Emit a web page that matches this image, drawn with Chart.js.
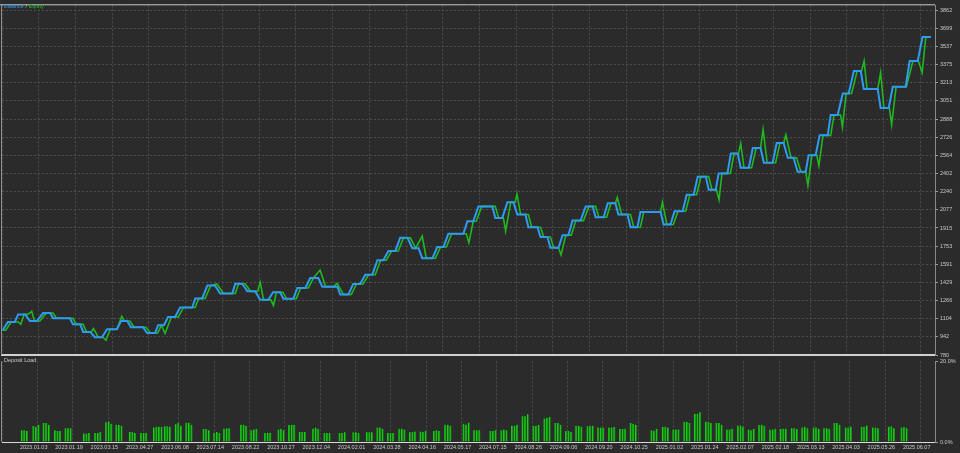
<!DOCTYPE html>
<html>
<head>
<meta charset="utf-8">
<script src="https://cdn.jsdelivr.net/npm/chart.js@4"></script>
<style>
  html, body { margin: 0; padding: 0; background: #2b2b2b; }
  #wrap { position: relative; width: 960px; height: 453px; overflow: hidden; }
  #main { position: absolute; left: 0; top: 0; z-index: 2; }
  #load { position: absolute; left: 0; top: 356px; z-index: 1; }
  .lbl { position: absolute; z-index: 3; font: 5.5px "Liberation Sans", sans-serif; color: #c8c8c8; white-space: nowrap; }
</style>
</head>
<body>
<div id="wrap">
  <canvas id="main" width="960" height="362"></canvas>
  <canvas id="load" width="960" height="97"></canvas>
  <div class="lbl" style="left:4px;top:3px"><span style="color:#2e9bf0">Balance</span> / <span style="color:#1fc01f">Equity</span></div>
  <div class="lbl" style="left:4px;top:357px">Deposit Load</div>
</div>
<script>
// x values are deal numbers, one date label every 10 deals
const dateLabels = ['2023.01.03', '2023.01.19', '2023.03.15', '2023.04.27', '2023.06.08', '2023.07.14',
  '2023.08.22', '2023.10.27', '2023.12.04', '2024.02.01', '2024.03.28', '2024.04.16', '2024.05.17',
  '2024.07.15', '2024.08.26', '2024.09.06', '2024.09.20', '2024.10.25', '2025.01.02', '2025.01.24',
  '2025.02.07', '2025.02.18', '2025.03.13', '2025.04.03', '2025.05.26', '2025.06.07'];

// right axis tick values of the balance panel
const balanceTicks = [780, 942, 1104, 1266, 1429, 1591, 1753, 1915, 2077, 2240, 2402, 2564, 2726,
  2888, 3051, 3213, 3375, 3537, 3699, 3862];

// balance: each level is held from stepFrom to stepTo
const stepFrom = [0.2, 1.6, 4.4, 7.6, 11.2, 13.9, 19.3, 22.1, 25.3, 28.6,
  32.4, 35.1, 39.5, 42.5, 45.2, 48.5, 52.6, 55.9, 59.4, 63.5,
  66.8, 70.3, 73.8, 76.6, 80.4, 83.9, 87.2, 92.1, 95.6, 98.9,
  102.2, 105.2, 108.4, 111.7, 114.4, 118.5, 121.5, 126.7, 129.7, 134.3,
  137.6, 140.3, 143.3, 146.6, 149.3, 152.6, 155.3, 158.9, 161.6, 164.9,
  167.8, 171.1, 173.8, 180.1, 183.1, 186.4, 189.4, 192.4, 195.1, 198.4,
  201.1, 204.4, 207.4, 210.9, 213.9, 216.6, 219.6, 222.6, 225.6, 228.9,
  231.9, 234.6, 239.2, 242.5, 247.1, 250.6];
const stepTo = [0.2, 3.5, 6.3, 9.5, 13.1, 18.5, 21.3, 24.0, 27.2, 31.3,
  34.1, 38.4, 41.7, 44.1, 47.1, 51.8, 54.5, 58.0, 62.7, 65.4,
  68.9, 72.5, 75.7, 79.3, 82.6, 86.1, 91.3, 94.3, 97.5, 100.8,
  103.8, 107.1, 110.4, 113.4, 117.2, 120.2, 125.6, 128.3, 133.5, 136.2,
  139.2, 142.5, 145.8, 148.5, 151.5, 154.2, 157.5, 160.8, 163.8, 167.0,
  170.3, 173.0, 179.3, 182.0, 185.3, 188.3, 191.6, 194.3, 197.5, 200.3,
  203.3, 206.5, 209.8, 212.8, 215.5, 218.8, 221.5, 224.8, 227.5, 230.5,
  233.8, 238.4, 241.4, 246.0, 249.3, 252.9];
const balanceLevels = [1001, 1075, 1143, 1084, 1155, 1108, 1054, 986, 939, 1010,
  1084, 1028, 977, 1046, 1119, 1205, 1285, 1400, 1329, 1417,
  1349, 1273, 1340, 1282, 1379, 1468, 1391, 1320, 1415, 1497,
  1627, 1710, 1827, 1734, 1645, 1745, 1863, 1975, 2108, 2005,
  2146, 2035, 1922, 1834, 1739, 1851, 1981, 2108, 2011, 2137,
  2035, 1922, 2058, 1946, 2064, 2212, 2374, 2256, 2403, 2580,
  2453, 2630, 2498, 2675, 2542, 2418, 2566, 2743, 2925, 3117,
  3318, 3156, 2987, 3177, 3407, 3622];

// equity turning points
const equityX = [0.2, 1.0, 2.5, 4.4, 5.1, 6.0, 7.0, 8.1, 8.8, 10.3,
  12.1, 13.9, 14.8, 19.3, 20.2, 22.1, 23.0, 24.3, 24.9, 26.2,
  27.5, 28.3, 29.5, 31.3, 32.6, 33.3, 34.8, 36.0, 39.2, 40.4,
  42.4, 43.4, 44.4, 46.1, 48.0, 49.4, 52.6, 53.5, 55.3, 56.8,
  58.5, 60.3, 63.5, 64.4, 66.2, 67.7, 69.6, 70.3, 71.2, 73.2,
  73.9, 74.7, 76.5, 77.5, 80.1, 81.3, 83.4, 84.8, 86.6, 88.1,
  90.3, 91.2, 93.0, 95.1, 96.5, 98.3, 99.8, 101.6, 103.1, 104.6,
  106.1, 107.9, 109.3, 111.2, 112.6, 114.4, 115.5, 118.0, 119.4, 121.0,
  122.4, 126.4, 127.1, 128.3, 129.1, 130.6, 134.3, 135.2, 136.5, 137.1,
  138.5, 139.7, 140.2, 141.2, 143.3, 144.2, 146.6, 147.5, 149.3, 150.2,
  151.5, 152.2, 153.5, 155.0, 156.2, 158.3, 159.8, 161.6, 162.5, 164.6,
  165.8, 167.0, 167.5, 168.7, 171.1, 172.0, 173.8, 174.7, 179.3, 179.8,
  181.0, 182.8, 184.0, 186.1, 187.3, 189.1, 190.3, 192.4, 193.3, 194.5,
  195.2, 196.0, 198.3, 199.3, 200.5, 201.1, 202.0, 204.1, 205.3, 206.5,
  207.2, 208.3, 210.6, 211.8, 212.8, 213.4, 214.8, 216.3, 217.5, 218.8,
  219.4, 220.5, 221.8, 222.4, 223.5, 225.6, 226.5, 228.3, 228.8, 229.8,
  231.3, 232.8, 234.0, 234.7, 235.5, 238.4, 239.2, 240.1, 241.6, 242.2,
  243.4, 246.2, 248.0, 249.5, 250.5, 251.5, 252.9];
const equity = [1001, 1001, 1075, 1075, 1054, 1143, 1143, 1170, 1084, 1084,
  1155, 1155, 1108, 1108, 1054, 1054, 986, 986, 1016, 939,
  939, 912, 1010, 1010, 1125, 1084, 1084, 1028, 1028, 977,
  977, 1046, 972, 1119, 1119, 1205, 1205, 1285, 1285, 1400,
  1415, 1329, 1329, 1417, 1417, 1349, 1349, 1429, 1273, 1273,
  1223, 1340, 1340, 1282, 1282, 1379, 1379, 1468, 1539, 1391,
  1391, 1420, 1320, 1320, 1415, 1415, 1497, 1497, 1627, 1627,
  1710, 1710, 1827, 1827, 1734, 1842, 1645, 1645, 1745, 1745,
  1863, 1863, 1783, 1975, 1975, 2108, 2108, 2005, 2005, 1887,
  2146, 2146, 2217, 2035, 2035, 1922, 1922, 1834, 1834, 1739,
  1739, 1674, 1851, 1851, 1981, 1981, 2108, 2108, 2011, 2011,
  2137, 2137, 2188, 2035, 2035, 1922, 1922, 2058, 2058, 2146,
  1946, 1946, 2064, 2064, 2212, 2212, 2374, 2374, 2256, 2256,
  2167, 2403, 2403, 2580, 2580, 2669, 2453, 2453, 2630, 2630,
  2796, 2498, 2498, 2675, 2675, 2748, 2542, 2542, 2418, 2418,
  2294, 2566, 2566, 2471, 2743, 2743, 2925, 2925, 2816, 3117,
  3117, 3318, 3318, 3407, 3156, 3156, 3303, 2987, 2987, 2837,
  3177, 3177, 3407, 3407, 3303, 3622, 3622];

// deposit load (%), bars come in small groups starting at loadX
const loadX = [0.5, 3.8, 6.7, 9.9, 12.9, 18.1, 21.3, 24.4, 27.3, 31.1,
  34.3, 37.9, 41.0, 44.1, 47.1, 52.0, 55.0, 57.8, 62.6, 65.5,
  69.4, 73.2, 76.2, 79.2, 83.0, 86.2, 90.5, 94.4, 98.2, 101.2,
  104.2, 107.4, 110.4, 113.4, 117.2, 120.4, 125.6, 128.6, 133.2, 136.3,
  139.3, 142.3, 145.4, 148.5, 151.6, 154.6, 157.5, 160.7, 163.7, 166.8,
  169.9, 172.9, 178.8, 182.0, 185.0, 188.1, 191.1, 194.2, 197.2, 200.2,
  203.3, 206.3, 209.3, 212.4, 215.4, 218.5, 221.5, 224.7, 227.7, 230.6,
  233.8, 238.3, 241.5, 246.0, 249.6];
const loadPct = [[2.9, 2.9, 2.7], [4.0, 3.8, 4.3], [4.7, 4.7, 4.3], [2.9, 2.7, 2.7], [3.4, 3.4, 3.4],
  [2.1, 2.1, 2.2], [2.2, 2.2, 2.5], [4.9, 5.1, 4.5], [4.3, 4.3, 4.0], [2.5, 2.5, 2.2],
  [2.2, 2.2, 2.2], [3.6, 3.8, 3.8, 3.7], [3.9, 3.9, 3.8], [4.4, 4.7, 4.0], [4.8, 4.8, 4.3],
  [3.2, 3.2, 2.9], [2.3, 2.5, 2.2], [3.3, 3.4, 3.4], [4.3, 4.3, 4.0], [2.9, 3.1, 3.3],
  [2.2, 2.3, 2.3], [3.1, 3.3, 2.9], [4.2, 4.2, 4.3], [2.5, 2.5, 2.5], [3.3, 3.6, 3.3],
  [2.2, 2.2, 2.2], [2.2, 2.2, 2.4], [2.4, 2.4, 2.2], [2.4, 2.4, 2.4], [3.6, 3.6, 3.3],
  [2.2, 2.2, 2.2], [3.3, 3.3, 3.1], [2.4, 2.5, 2.6], [2.6, 2.5, 2.7], [2.7, 2.9, 2.7],
  [4.3, 4.3, 4.0], [4.5, 4.3, 4.8], [2.9, 2.9, 2.9], [2.7, 2.7, 2.9], [2.9, 3.1, 2.9],
  [4.0, 4.0, 4.3], [6.4, 6.4, 6.9], [4.0, 4.0, 4.2], [5.8, 6.0, 6.2], [4.7, 4.7, 4.3],
  [2.7, 2.7, 2.5], [4.0, 4.0, 3.8], [3.9, 4.0, 4.0], [3.6, 3.6, 3.6], [3.6, 3.6, 3.7],
  [3.2, 3.2, 3.3], [4.7, 4.5, 4.3], [2.9, 2.8, 3.2], [3.7, 3.8, 3.6], [3.1, 3.1, 3.1],
  [5.0, 5.0, 4.7], [7.0, 7.0, 7.4], [5.0, 5.0, 4.7], [4.7, 4.7, 4.3], [3.1, 3.1, 3.3],
  [4.1, 4.1, 3.8], [3.1, 2.9, 3.2], [4.2, 4.3, 4.0], [3.1, 3.1, 3.3], [3.2, 3.3, 3.3],
  [3.4, 3.4, 3.2], [3.6, 3.8, 3.4], [3.6, 3.6, 3.3], [3.4, 3.4, 3.2], [4.7, 4.7, 4.3],
  [3.6, 3.6, 3.8], [3.8, 3.8, 4.1], [3.6, 3.6, 3.4], [3.8, 3.9, 3.4], [3.6, 3.7, 3.4]];

const BLUE = '#2e9bf0';
const GREEN = '#1fb81f';
const GRID = '#4e4e4e';
const TEXT = '#c8c8c8';
const FONT = { family: 'Liberation Sans', size: 5.5 };
const DEAL_MAX = 254;
const BAR_STEP = 0.73;

// build point lists from the arrays above
const balancePts = [];
balanceLevels.forEach((v, i) => {
  balancePts.push({ x: stepFrom[i], y: v });
  if (stepTo[i] !== stepFrom[i]) balancePts.push({ x: stepTo[i], y: v });
});
const equityPts = equityX.map((x, i) => ({ x, y: equity[i] }));
const loadPts = [];
loadX.forEach((x0, g) => {
  loadPct[g].forEach((v, j) => loadPts.push({ x: x0 + j * BAR_STEP, y: v }));
});

// thin frame lines around the panels
const framePlugin = {
  id: 'frame',
  afterDraw(chart, args, opts) {
    const { ctx, chartArea } = chart;
    ctx.save();
    ctx.lineWidth = 1;
    ctx.strokeStyle = '#8c8c8c';
    ctx.beginPath();
    ctx.moveTo(1.5, chartArea.top);
    ctx.lineTo(1.5, chartArea.bottom);
    ctx.stroke();
    if (opts.top) {
      ctx.strokeStyle = '#c8c8c8';
      ctx.beginPath();
      ctx.moveTo(0, chartArea.top - 0.5);
      ctx.lineTo(chartArea.right, chartArea.top - 0.5);
      ctx.stroke();
    }
    ctx.restore();
  }
};

function xScale(showLabels) {
  return {
    type: 'linear',
    min: 0,
    max: DEAL_MAX,
    afterBuildTicks: (scale) => { scale.ticks = dateLabels.map((_, i) => ({ value: i * 10 })); },
    afterFit: (scale) => {
      scale.height = showLabels ? 11 : 0;
      scale.paddingLeft = 0;
      scale.paddingRight = 0;
    },
    grid: { color: GRID, drawTicks: false },
    border: showLabels ? { color: '#d8d8d8', width: 1, dash: [2, 2] } : { color: '#d0d0d0', width: 2, dash: [2, 2] },
    ticks: {
      display: showLabels,
      autoSkip: false,
      maxRotation: 0,
      align: 'start',
      padding: 2,
      color: TEXT,
      font: FONT,
      callback: (v) => dateLabels[Math.round(v / 10)]
    }
  };
}

new Chart(document.getElementById('main'), {
  type: 'line',
  data: {
    datasets: [
      { label: 'Balance', data: balancePts, borderColor: BLUE, borderWidth: 2, pointRadius: 0, order: 0 },
      { label: 'Equity', data: equityPts, borderColor: GREEN, borderWidth: 1.6, pointRadius: 0, order: 1 }
    ]
  },
  options: {
    responsive: false,
    animation: false,
    layout: { padding: { left: 2, top: 2, right: 0, bottom: 7 } },
    plugins: { legend: { display: false }, tooltip: { enabled: false }, frame: { top: true } },
    scales: {
      x: xScale(false),
      y: {
        position: 'right',
        min: 780,
        max: 3905,
        afterBuildTicks: (scale) => { scale.ticks = balanceTicks.map((v) => ({ value: v })); },
        afterFit: (scale) => { scale.width = 25; },
        grid: { color: GRID, tickLength: 3, tickColor: '#9a9a9a' },
        border: { color: '#8a8a8a', width: 1, dash: [2, 2] },
        ticks: { color: TEXT, font: FONT, padding: 2, callback: (v) => String(v) }
      }
    }
  },
  plugins: [framePlugin]
});

new Chart(document.getElementById('load'), {
  type: 'bar',
  data: {
    datasets: [
      {
        label: 'Deposit Load',
        data: loadPts,
        backgroundColor: '#1ccb1c',
        borderColor: '#0c8a0c',
        borderWidth: { right: 1, left: 0, top: 0, bottom: 0 },
        borderSkipped: false,
        barThickness: 1.8
      }
    ]
  },
  options: {
    responsive: false,
    animation: false,
    layout: { padding: { left: 2, top: 2, right: 0, bottom: 0 } },
    plugins: { legend: { display: false }, tooltip: { enabled: false }, frame: { top: false } },
    scales: {
      x: xScale(true),
      y: {
        position: 'right',
        min: 0,
        max: 20,
        afterBuildTicks: (scale) => { scale.ticks = [{ value: 0 }, { value: 20 }]; },
        afterFit: (scale) => { scale.width = 25; },
        grid: { drawOnChartArea: false, tickLength: 3, tickColor: '#9a9a9a' },
        border: { color: '#8a8a8a', width: 1 },
        ticks: { color: TEXT, font: FONT, padding: 2, callback: (v) => v.toFixed(1) + '%' }
      }
    }
  },
  plugins: [framePlugin]
});
</script>
</body>
</html>
